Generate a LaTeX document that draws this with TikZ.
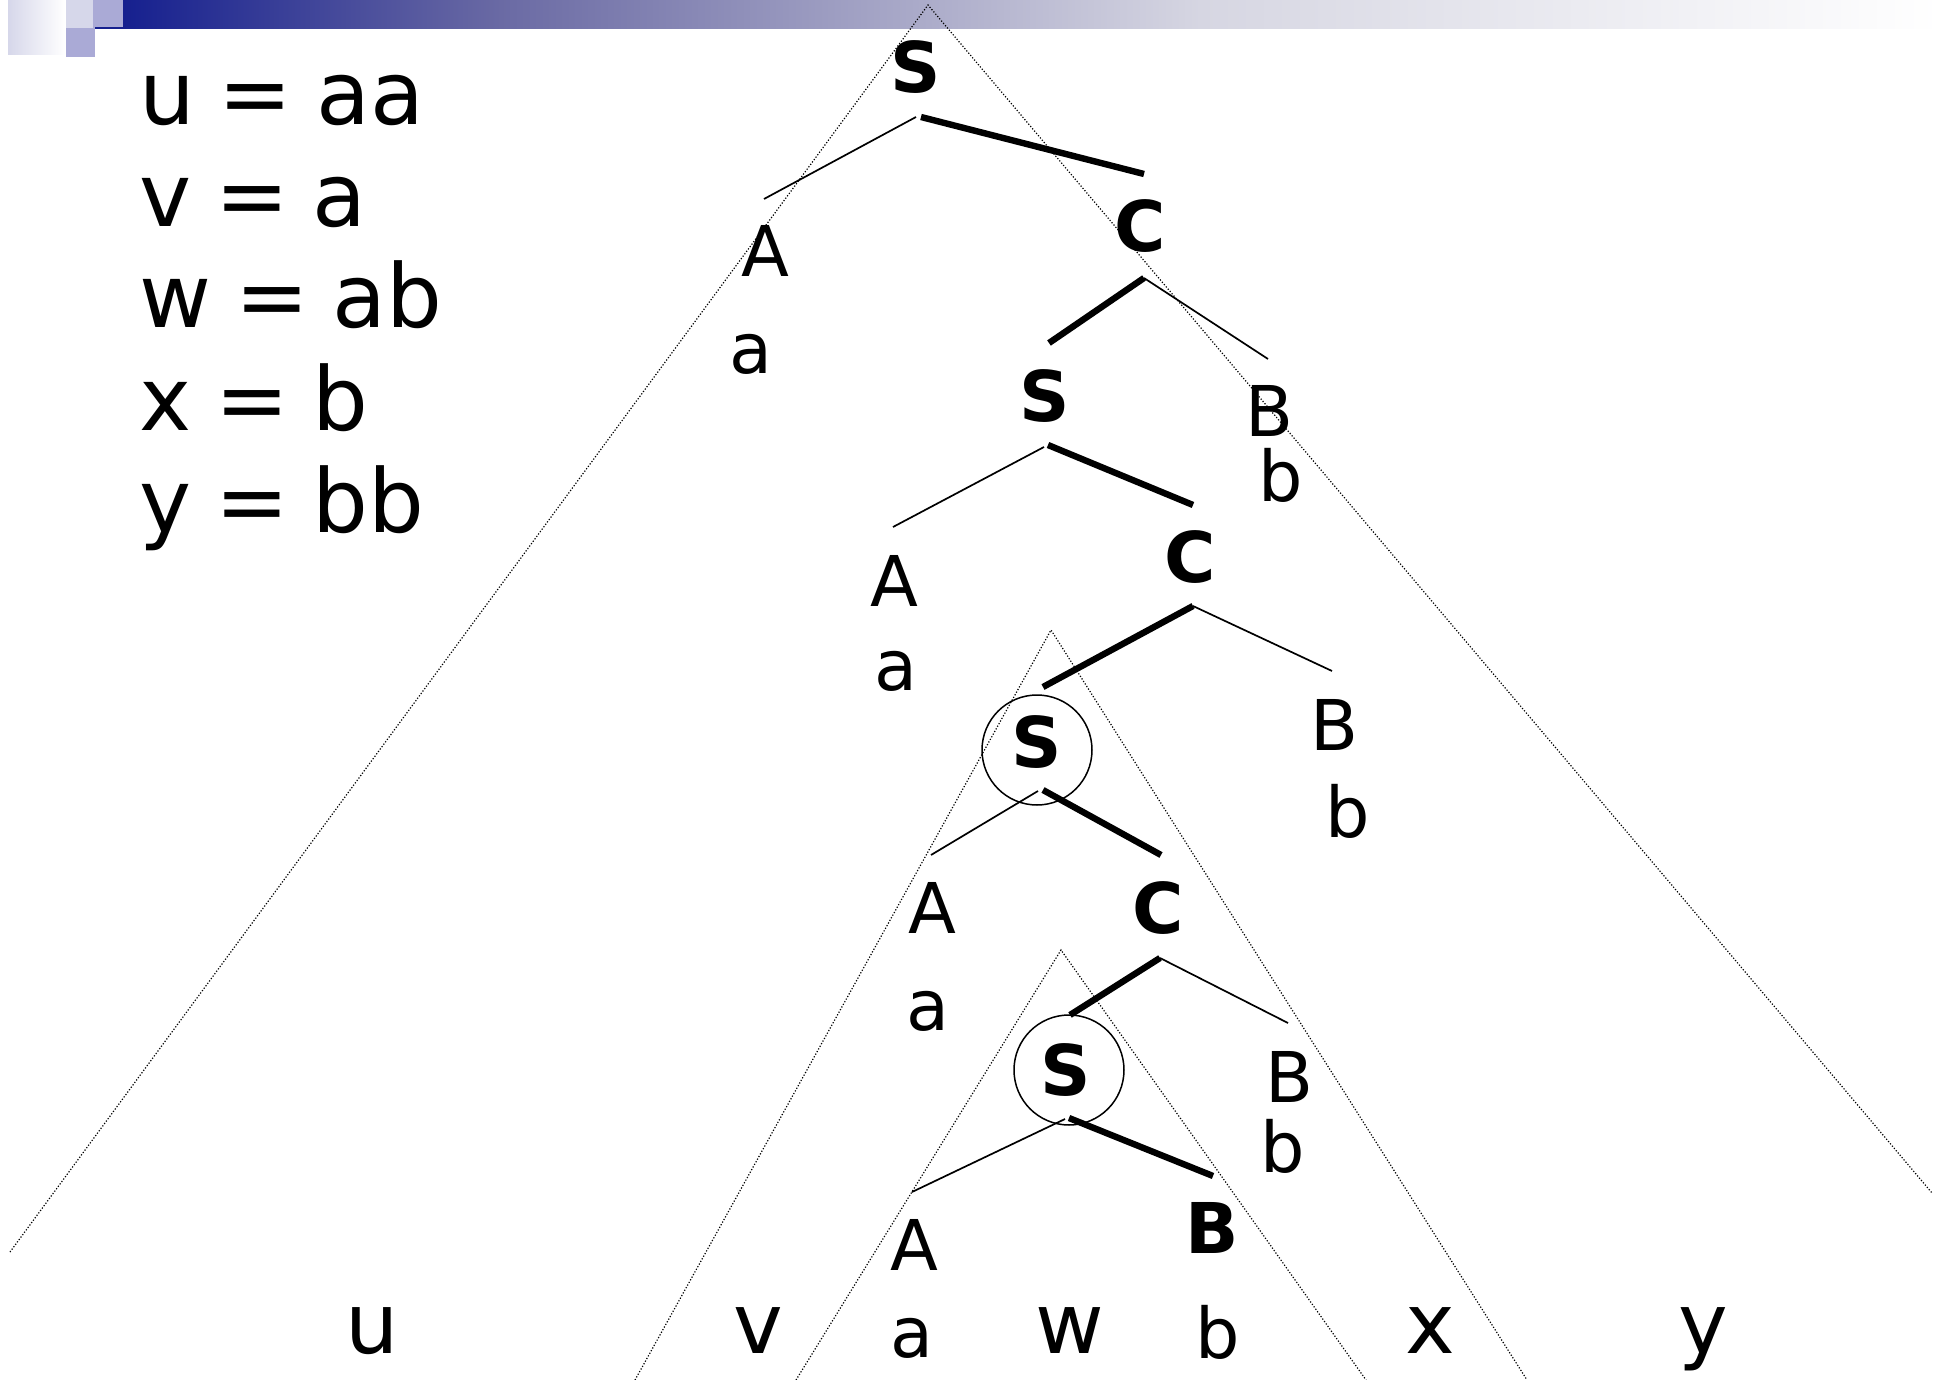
\documentclass[tikz,border=0pt]{standalone}
\usepackage{fontspec}
\setmainfont{DejaVu Sans}
\newfontfamily\eqfont[WordSpace=0.85]{DejaVu Sans}
\definecolor{sqlight}{RGB}{214,215,234}
\definecolor{sqmid}{RGB}{170,170,214}
\definecolor{bardark}{RGB}{22,32,143}
\definecolor{barmid}{RGB}{106,106,164}
\definecolor{barpale}{RGB}{214,214,226}
\begin{document}
\begin{tikzpicture}[x=0.5pt,y=-0.5pt,
  tree/.style={inner sep=0pt, anchor=base, font=\fontsize{35pt}{35pt}\selectfont},
  treeb/.style={inner sep=0pt, anchor=base, font=\fontsize{35pt}{35pt}\selectfont\bfseries},
  word/.style={inner sep=0pt, anchor=base, font=\fontsize{42pt}{42pt}\selectfont},
  eqn/.style={inner sep=0pt, anchor=base west, font=\eqfont\fontsize{44pt}{44pt}\selectfont},
  thinline/.style={line width=0.85pt},
  thickline/.style={line width=3.2pt},
  dotline/.style={line width=0.6pt, dash pattern=on 0.6pt off 0.9pt},
  ring/.style={draw, circle, line width=0.75pt, minimum size=55pt, inner sep=0pt}
]
\useasboundingbox (0,0) rectangle (1940,1380);
% header decoration
\shade[left color=sqlight, right color=white] (8,0) rectangle (65,55);
\fill[sqlight] (66,0) rectangle (93,28);
\fill[sqmid] (93,0) rectangle (123,28);
\fill[sqmid] (66,28) rectangle (95,57);
\fill[bardark] (95,27.5) rectangle (124,29);
\shade[left color=bardark, right color=barmid] (123,1) rectangle (501,29);
\shade[left color=barmid, right color=barpale] (500,1) rectangle (1201,29);
\shade[left color=barpale, right color=white] (1200,1) rectangle (1940,29);

% equations
\node[eqn] (e1) at (139,125) {u = aa};
\node[eqn] (e2) at (139,227) {v = a};
\node[eqn] (e3) at (139,328) {w = ab};
\node[eqn] (e4) at (139,430) {x = b};
\node[eqn] (e5) at (139,532) {y = bb};

% dotted triangles
\coordinate (T1) at (928,5);
\coordinate (T1l) at (10,1252);
\coordinate (T1r) at (1932,1193);
\coordinate (T2) at (1051,630);
\coordinate (T2l) at (635,1380);
\coordinate (T2r) at (1527,1380);
\coordinate (T3) at (1061,950);
\coordinate (T3l) at (796,1380);
\coordinate (T3r) at (1366,1380);
\draw[dotline] (T1l) -- (T1) -- (T1r);
\draw[dotline] (T2l) -- (T2) -- (T2r);
\draw[dotline] (T3l) -- (T3) -- (T3r);

% tree labels
\node[treeb] (S0) at (916,93) {S};
\node[tree] (A0) at (765,277) {A};
\node[tree] (a0) at (751,373) {a};
\node[treeb] (C0) at (1140,252) {C};
\node[treeb] (S1) at (1045,422) {S};
\node[tree] (B0) at (1269,437) {B};
\node[tree] (b0) at (1281,502) {b};
\node[tree] (A1) at (894,606) {A};
\node[tree] (a1) at (896,690) {a};
\node[treeb] (C1) at (1190,582) {C};
\node[ring] (R2) at (1037,750) {};
\node[treeb] (S2) at (1037,767) {S};
\node[tree] (B1) at (1334,750) {B};
\node[tree] (b1) at (1348,837) {b};
\node[tree] (A2) at (932,933) {A};
\node[treeb] (C2) at (1158,933) {C};
\node[tree] (a2) at (928,1030) {a};
\node[ring] (R3) at (1069,1070) {};
\node[treeb] (S3) at (1066,1095) {S};
\node[tree] (B2) at (1289,1102) {B};
\node[tree] (b2) at (1283,1172) {b};
\node[tree] (A3) at (914,1270) {A};
\node[treeb] (B3) at (1212,1253) {B};

% bottom row
\node[word] (wu) at (372,1353) {u};
\node[word] (wv) at (758,1353) {v};
\node[tree] (wa) at (912,1357) {a};
\node[word] (ww) at (1070,1353) {w};
\node[tree] (wb) at (1218,1358) {b};
\node[word] (wx) at (1430,1353) {x};
\node[word] (wy) at (1703,1353) {y};

% edge end points
\coordinate (S0d) at (916,117);
\coordinate (S0e) at (921,117);
\coordinate (A0u) at (764,199);
\coordinate (C0u) at (1144,174);
\coordinate (C0d) at (1144,278);
\coordinate (S1u) at (1049,343);
\coordinate (B0u) at (1268,359);
\coordinate (S1d) at (1044,447);
\coordinate (S1e) at (1048,445);
\coordinate (A1u) at (893,527);
\coordinate (C1u) at (1193,505);
\coordinate (C1d) at (1193,606);
\coordinate (S2u) at (1043,687);
\coordinate (B1u) at (1332,671);
\coordinate (S2d) at (1038,791);
\coordinate (S2e) at (1043,790);
\coordinate (A2u) at (931,855);
\coordinate (C2u) at (1161,855);
\coordinate (C2d) at (1160,958);
\coordinate (S3u) at (1070,1015);
\coordinate (B2u) at (1288,1023);
\coordinate (S3d) at (1065,1119);
\coordinate (S3e) at (1069,1118);
\coordinate (A3u) at (912,1192);
\coordinate (B3u) at (1213,1176);

\draw[thinline] (S0d) -- (A0u);
\draw[thickline] (S0e) -- (C0u);
\draw[thickline] (C0d) -- (S1u);
\draw[thinline] (C0d) -- (B0u);
\draw[thinline] (S1d) -- (A1u);
\draw[thickline] (S1e) -- (C1u);
\draw[thickline] (C1d) -- (S2u);
\draw[thinline] (C1d) -- (B1u);
\draw[thinline] (S2d) -- (A2u);
\draw[thickline] (S2e) -- (C2u);
\draw[thickline] (C2d) -- (S3u);
\draw[thinline] (C2d) -- (B2u);
\draw[thinline] (S3d) -- (A3u);
\draw[thickline] (S3e) -- (B3u);
\end{tikzpicture}
\end{document}
